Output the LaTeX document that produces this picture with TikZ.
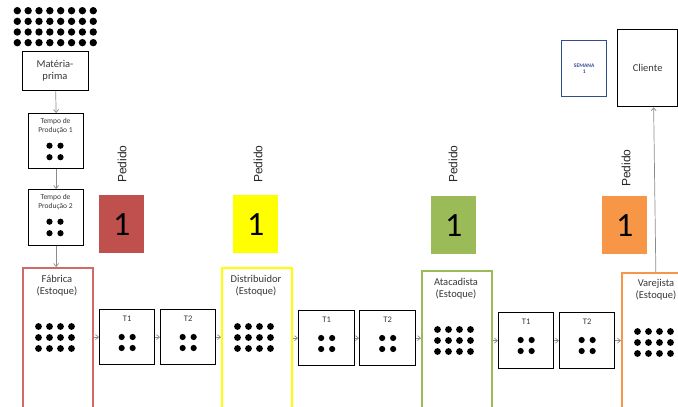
\documentclass[tikz,border=0pt]{standalone}
\usepackage{fontspec}
\setmainfont{Carlito}
\newfontfamily\arialf{Liberation Sans}
\usetikzlibrary{arrows.meta}
\definecolor{cred}{HTML}{C0504D}
\definecolor{credl}{HTML}{D06A68}
\definecolor{cyel}{HTML}{FFFF00}
\definecolor{cgrn}{HTML}{9BBB59}
\definecolor{corg}{HTML}{F79646}
\definecolor{cblue}{HTML}{2F4E8C}
\definecolor{ctxt}{HTML}{383838}
\definecolor{cline}{HTML}{8C8C8C}
\begin{document}
\begin{tikzpicture}[x=1pt,y=-1pt,
  box/.style={draw=black, line width=1.3pt, fill=white, anchor=north west, inner sep=0pt},
  stockbox/.style={draw=#1, line width=1.7pt, fill=white, anchor=north west, inner sep=0pt, minimum width=70pt, minimum height=150pt},
  lbl/.style={text=ctxt, font=\fontsize{10.5}{12}\selectfont, align=center, inner sep=0pt},
  slbl/.style={text=ctxt, font=\fontsize{7.5}{9}\selectfont, align=center, inner sep=0pt},
  pedbox/.style={fill=#1, anchor=north west, minimum width=45pt, minimum height=58pt, inner sep=0pt, font=\fontsize{34}{34}\selectfont, text=black},
  pedlbl/.style={rotate=90, font=\arialf\fontsize{12}{12}\selectfont, text=black!85, inner sep=0pt},
  conn/.style={draw=cline, line width=0.7pt, -{Straight Barb[length=3pt,width=5pt]}}
]
\useasboundingbox (0,0) rectangle (678,407);
\clip (0,0) rectangle (678,407);

% top dot grid
\foreach \i in {0,...,7}
  \foreach \j in {0,...,3}
    \fill (17.3+10.85*\i, 10.7+10.65*\j) circle (3.7);

% vertical chain
\node[box, minimum width=66pt, minimum height=39pt] (mp) at (22,51) {};
\node[lbl] at (55,70.5) {Matéria-\\prima};

\node[box, minimum width=55pt, minimum height=55pt] (tp1) at (28,113) {};
\node[slbl] (tp1t) at (55.5,126) {Tempo de\\Produção 1};
\node[box, minimum width=55pt, minimum height=56pt] (tp2) at (28,189) {};
\node[slbl] (tp2t) at (55.5,202) {Tempo de\\Produção 2};
\foreach \b in {113,189}
  \foreach \i in {0,1}
    \foreach \j in {0,1}
      \fill (49.5+11*\i, \b+32.7+11.5*\j) circle (3.1);

% stock boxes
\node[stockbox=credl] (fab) at (22,267) {};
\node[lbl] at (57,286) {Fábrica\\(Estoque)};
\node[stockbox=cyel] (dis) at (221,267) {};
\node[lbl] at (256,286) {Distribuidor\\(Estoque)};
\node[stockbox=cgrn] (ata) at (421,270) {};
\node[lbl] at (456,288.5) {Atacadista\\(Estoque)};
\node[stockbox=corg] (var) at (621,272) {};
\node[lbl] at (656,290) {Varejista\\(Estoque)};

\foreach \x/\y in {22/267,221/267,421/270,621/272}
  \foreach \i in {0,...,3}
    \foreach \j in {0,...,2}
      \fill (\x+16.5+11*\i, \y+59.5+11*\j) circle (3.4);

% transport boxes
\node[box, minimum width=55pt, minimum height=55pt] (f1) at (99,309) {};
\node[box, minimum width=55pt, minimum height=55pt] (f2) at (160,309) {};
\node[box, minimum width=56pt, minimum height=55pt] (d1) at (298,310) {};
\node[box, minimum width=56pt, minimum height=55pt] (d2) at (359,310) {};
\node[box, minimum width=55pt, minimum height=56pt] (a1) at (498,312) {};
\node[box, minimum width=55pt, minimum height=56pt] (a2) at (559,312) {};
\foreach \n/\t in {f1/T1,f2/T2,d1/T1,d2/T2,a1/T1,a2/T2}{
  \node[text=ctxt, font=\fontsize{8.5}{9}\selectfont, inner sep=0pt] at ([yshift=-10]\n.north) {\t};
  \foreach \i in {-1,1}
    \foreach \j in {0,1}
      \fill ([xshift={5.5*\i}, yshift={-(28+11*\j)}]\n.north) circle (3.1);
}

% pedido boxes
\node[pedbox=cred] (p1) at (99,195) {1};
\node[pedbox=cyel] (p2) at (233,195) {1};
\node[pedbox=cgrn] (p3) at (431,196) {1};
\node[pedbox=corg] (p4) at (602,196) {1};
\node[pedlbl] (q1) at (122,164) {Pedido};
\node[pedlbl] (q2) at (258,164) {Pedido};
\node[pedlbl] (q3) at (453,164) {Pedido};
\node[pedlbl] (q4) at (626,168) {Pedido};

% semana and cliente
\node[draw=cblue, line width=1.3pt, anchor=north west, minimum width=45pt, minimum height=56pt, inner sep=0pt, text=cblue, font=\bfseries\fontsize{5.5}{6.5}\selectfont, align=center] (sem) at (561,40) {SEMANA\\1};
\node[box, minimum width=60pt, minimum height=77pt, font=\fontsize{10.5}{11}\selectfont, text=ctxt] (cli) at (617,29) {Cliente};

% connectors
\draw[conn] (mp.south) -- (tp1.north);
\draw[conn] (tp1.south) -- (tp2.north);
\draw[conn] (tp2.south) -- (fab.north -| tp2.south);
\draw[conn] (fab.east |- f1.west) -- (f1.west);
\draw[conn] (f1.east) -- (f2.west);
\draw[conn] (f2.east) -- (dis.west |- f2.east);
\draw[conn] (dis.east |- d1.west) -- (d1.west);
\draw[conn] (d1.east) -- (d2.west);
\draw[conn] (d2.east) -- (ata.west |- d2.east);
\draw[conn] (ata.east |- a1.west) -- (a1.west);
\draw[conn] (a1.east) -- (a2.west);
\draw[conn] (a2.east) -- (var.west |- a2.east);
\draw[conn] ([xshift=-1]var.north) -- ([xshift=6]cli.south);
\end{tikzpicture}
\end{document}
